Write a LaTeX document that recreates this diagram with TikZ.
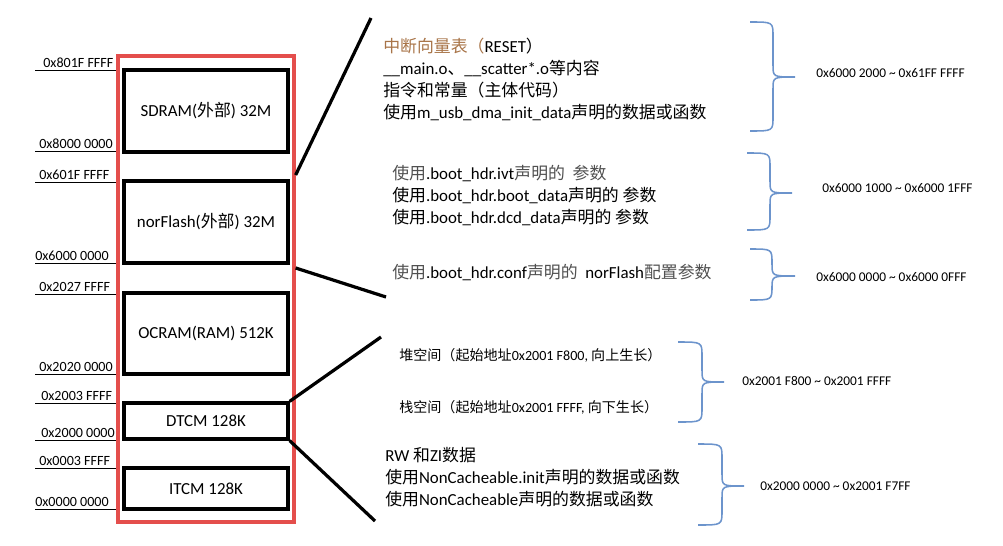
\documentclass[tikz,border=0pt]{standalone}
\usepackage{fontspec}
\usepackage{xcolor}
\usepackage{tikz}
\usetikzlibrary{positioning,calc}
\setmainfont{Carlito}
\newfontfamily\cjk{Noto Sans CJK SC}
\newcommand\zh[1]{{\cjk #1}}
\definecolor{memred}{RGB}{228,78,76}
\definecolor{braceblue}{RGB}{108,148,204}
\definecolor{vecbrown}{RGB}{168,116,72}
\definecolor{textgray}{RGB}{80,80,80}

\begin{document}
\begin{tikzpicture}[
  x=0.025cm, y=-0.025cm,
  addr/.style={font=\fontsize{10}{12}\selectfont, anchor=base west, inner sep=0pt},
  tick/.style={draw=black, line width=0.6pt},
  frame/.style={draw=memred, line width=2.3pt, minimum width=4.4cm, minimum height=11.65cm},
  region/.style={draw=black, line width=2.3pt, minimum width=4.1cm, font=\fontsize{12}{14}\selectfont},
  link/.style={draw=black, line width=2.3pt},
  note/.style={font=\fontsize{12}{15.5}\selectfont, align=left, inner sep=0pt},
  smallnote/.style={font=\fontsize{10}{12}\selectfont, anchor=west, inner sep=0pt},
  addrrange/.style={font=\fontsize{9.5}{11}\selectfont, anchor=west, inner sep=0pt},
  brc/.style={draw=braceblue, line width=1.1pt}
]
\useasboundingbox (0,0) rectangle (1003,545);
\foreach \y/\x/\a in {70/43/0x801F FFFF, 151/39/0x8000 0000, 182/39/0x601F FFFF,
  263/35/0x6000 0000, 294/39/0x2027 FFFF, 374/39/0x2020 0000, 403/41/0x2003 FFFF,
  440/41/0x2000 0000, 468/39/0x0003 FFFF, 509/35/0x0000 0000} {
  \draw[tick] (35,\y) -- (117,\y);
  \node[addr] at (\x,\y-3) {\a};
}
\node[frame] (mem) at (206,289) {};
\node[region, minimum height=2.05cm] (sdram) at (206,111) {SDRAM(\zh{外部}) 32M};
\node[region, minimum height=2.05cm] (nor) at (206,222) {norFlash(\zh{外部}) 32M};
\node[region, minimum height=2.02cm] (ocram) at (206,333.5) {OCRAM(RAM) 512K};
\node[region, minimum height=0.9cm] (dtcm) at (206,421) {DTCM 128K};
\node[region, minimum height=1.02cm] (itcm) at (206,488.5) {ITCM 128K};

\node[note, anchor=north west] (vec) at (383,38) {{\color{vecbrown}\zh{中断向量表（}}RESET\zh{）}\\
  \_\_main.o\zh{、}\_\_scatter*.o\zh{等内容}\\
  \zh{指令和常量（主体代码）}\\
  \zh{使用}m\_usb\_dma\_init\_data\zh{声明的数据或函数}};
\node[note, anchor=north west] (ivt) at (392,165) {{\color{textgray}\zh{使用}}.boot\_hdr.ivt{\color{textgray}\zh{声明的}\ \ \zh{参数}}\\
  \zh{使用}.boot\_hdr.boot\_data\zh{声明的} \zh{参数}\\
  \zh{使用}.boot\_hdr.dcd\_data\zh{声明的} \zh{参数}};
\node[note, anchor=west] (conf) at (392,272) {{\color{textgray}\zh{使用}}.boot\_hdr.conf{\color{textgray}\zh{声明的}}\ \ norFlash{\color{textgray}\zh{配置参数}}};
\node[smallnote] (heap) at (399,355) {\zh{堆空间（起始地址}0x2001 F800, \zh{向上生长）}};
\node[smallnote] (stack) at (399,407) {\zh{栈空间（起始地址}0x2001 FFFF, \zh{向下生长）}};
\node[note, anchor=north west] (rw) at (385,447) {RW \zh{和}ZI\zh{数据}\\
  \zh{使用}NonCacheable.init\zh{声明的数据或函数}\\
  \zh{使用}NonCacheable\zh{声明的数据或函数}};

\coordinate (sdtop) at (mem.east |- 0,175);
\coordinate (nortop) at (mem.east |- 0,268);
\coordinate (vecend) at (371,18);
\coordinate (confend) at (386,297);
\coordinate (heapend) at (381,337);
\coordinate (rwend) at (375,521);
\draw[link] (sdtop) -- (vecend);
\draw[link] (nortop) -- (confend);
\draw[link] (dtcm.north east) -- (heapend);
\draw[link] (dtcm.south east) -- (rwend);

\foreach \xa/\xb/\xc/\ya/\ym/\yb in {750/773/795/22/77/131, 747/770/792/153/193/230,
  750/772/795/249/276/300, 678/702/724/342/382/422, 698/722/744/444/486/525} {
  \draw[brc] (\xa,\ya) .. controls (\xb,\ya) .. (\xb,\ya+14) -- (\xb,\ym-12)
    .. controls (\xb,\ym) .. (\xc,\ym) .. controls (\xb,\ym) .. (\xb,\ym+12)
    -- (\xb,\yb-14) .. controls (\xb,\yb) .. (\xa,\yb);
}
\node[addrrange] (r1) at (816,73) {0x6000 2000 \textasciitilde{} 0x61FF FFFF};
\node[addrrange] (r2) at (822,188) {0x6000 1000 \textasciitilde{} 0x6000 1FFF};
\node[addrrange] (r3) at (816,277) {0x6000 0000 \textasciitilde{} 0x6000 0FFF};
\node[addrrange] (r4) at (742,381) {0x2001 F800 \textasciitilde{} 0x2001 FFFF};
\node[addrrange] (r5) at (760,486) {0x2000 0000 \textasciitilde{} 0x2001 F7FF};
\end{tikzpicture}
\end{document}
